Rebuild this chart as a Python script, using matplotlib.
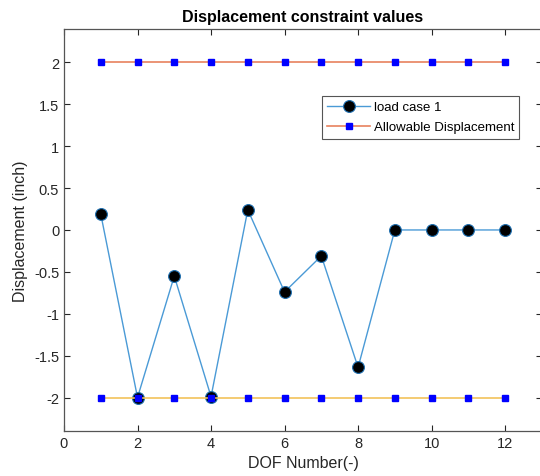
import matplotlib
matplotlib.use("Agg")
import matplotlib.pyplot as plt

plt.rcParams['font.family'] = ['Liberation Sans', 'DejaVu Sans']

# DOF numbers and displacements
dof = [1, 2, 3, 4, 5, 6, 7, 8, 9, 10, 11, 12]
load_case_1 = [0.19, -2.0, -0.55, -1.99, 0.24, -0.74, -0.31, -1.64, 0.0, 0.0, 0.0, 0.0]
allow_upper = [2] * 12
allow_lower = [-2] * 12

fig = plt.figure(figsize=(5.4, 4.77), dpi=100)
ax = fig.add_axes([0.1185, 0.0943, 0.885, 0.843])

ax.plot(dof, load_case_1, '-o', color='#4a9ad6', lw=1.0,
        mfc='black', mec='#1f6fb0', ms=8.5, mew=0.8, label='load case 1')
ax.plot(dof, allow_upper, '-s', color='#e8825e', lw=1.2,
        mfc='#0000ff', mec='#0000ff', ms=4, label='Allowable Displacement')
ax.plot(dof, allow_lower, '-s', color='#f2c25a', lw=1.2,
        mfc='#0000ff', mec='#0000ff', ms=4)

ax.set_xlim(0, 13)
ax.set_ylim(-2.4, 2.4)
ax.set_xticks(range(0, 13, 2))
ax.set_yticks([-2, -1.5, -1, -0.5, 0, 0.5, 1, 1.5, 2])
ax.set_yticklabels(['-2', '-1.5', '-1', '-0.5', '0', '0.5', '1', '1.5', '2'])
ax.tick_params(direction='in', top=True, right=True, length=4,
               labelsize=10.5, colors='#262626', width=0.8)
for s in ax.spines.values():
    s.set_color('#555555')
    s.set_linewidth(0.9)

ax.set_title('Displacement constraint values', fontsize=11.5, fontweight='bold', pad=6)
ax.set_xlabel('DOF Number(-)', fontsize=11.5, color='#262626')
ax.set_ylabel('Displacement (inch)', fontsize=11.5, color='#262626')

leg = ax.legend(loc='upper right', bbox_to_anchor=(0.953, 0.834), fontsize=9.5,
                fancybox=False, framealpha=1, edgecolor='#555555',
                handlelength=3.2, borderpad=0.4, labelspacing=0.6, handletextpad=0.3,
                borderaxespad=0)
leg.get_frame().set_linewidth(0.8)

fig.savefig('out.png', dpi=100, facecolor='white')
